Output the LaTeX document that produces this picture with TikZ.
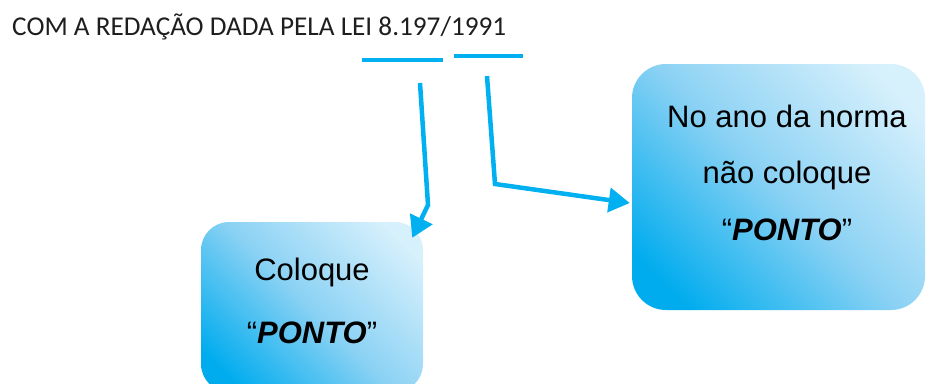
\documentclass[tikz,border=0pt]{standalone}
\usepackage{fontspec}
\setmainfont{Liberation Sans}
\newfontfamily\titlefont{Carlito}
\usetikzlibrary{arrows.meta,positioning}
\usepackage{xcolor}
\definecolor{lineblue}{RGB}{0,176,240}
\definecolor{boxdark}{RGB}{0,172,238}
\definecolor{boxmid}{RGB}{140,210,244}
\definecolor{boxlight}{RGB}{214,240,252}
\definecolor{titlegray}{RGB}{30,30,30}
\pgfdeclarehorizontalshading{notefade}{100bp}{color(0bp)=(boxdark); color(22bp)=(boxdark); color(50bp)=(boxmid); color(78bp)=(boxlight); color(100bp)=(boxlight)}

\begin{document}
\begin{tikzpicture}[x=1pt,y=-1pt,>={Triangle[length=21pt,width=24pt]},line width=4.5pt]
  \tikzstyle{note}=[draw=none,rounded corners=28pt,shading=notefade,shading angle=45,inner sep=0pt]
  \tikzstyle{txt}=[anchor=base,inner sep=0pt,font=\fontsize{31}{37}\selectfont]
  \tikzstyle{link}=[->,draw=lineblue]
  \tikzstyle{underline}=[draw=lineblue,line width=3.5pt]

  \useasboundingbox (0,0) rectangle (928,383);

  \node[anchor=base west,inner sep=0pt,text=titlegray,font=\titlefont\fontsize{27.2}{30}\selectfont] (title) at (10,35) {COM A REDAÇÃO DADA PELA LEI 8.197/1991};

  \node[note,minimum width=222pt,minimum height=170pt] (A) at (312,307) {};
  \node[note,minimum width=293pt,minimum height=246pt,rounded corners=34pt] (B) at (778.5,187) {};

  \node[txt] (A1) at (312,280) {Coloque};
  \node[txt] (A2) at (312,343) {“\textbf{\textit{PONTO}}”};
  \node[txt] (B1) at (787,127) {No ano da norma};
  \node[txt] (B2) at (787,183) {não coloque};
  \node[txt] (B3) at (787,240) {“\textbf{\textit{PONTO}}”};

  \draw[underline] (362,60) -- (443,60);
  \draw[underline] (454,56) -- (523,56);

  \coordinate (l0) at (420,83);
  \coordinate (l1) at (428,205);
  \coordinate (r0) at (487,76);
  \coordinate (r1) at (495,184);

  \draw[link] (l0) -- (l1) -- ([xshift=-13pt,yshift=-18pt]A.north east);
  \draw[link] (r0) -- (r1) -- ([yshift=-16pt]B.west);
\end{tikzpicture}
\end{document}
